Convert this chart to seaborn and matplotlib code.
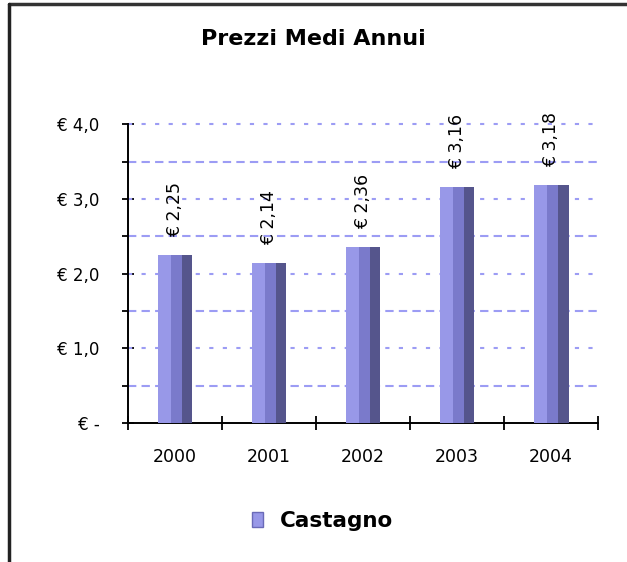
import matplotlib
matplotlib.use("Agg")
import matplotlib.pyplot as plt
from matplotlib.lines import Line2D
from matplotlib.patches import Rectangle
import seaborn as sns
import pandas as pd

years = ["2000", "2001", "2002", "2003", "2004"]
prices = [2.25, 2.14, 2.36, 3.16, 3.18]
price_labels = ["€ 2,25", "€ 2,14", "€ 2,36", "€ 3,16", "€ 3,18"]
y_ticks = [0, 1, 2, 3, 4]
y_tick_labels = ["€ -", "€ 1,0", "€ 2,0", "€ 3,0", "€ 4,0"]
minor_ticks = [0.5, 1.5, 2.5, 3.5]
series_name = "Castagno"

df = pd.DataFrame({"anno": years, "prezzo": prices})

sns.set_style("white")
plt.rcParams["font.family"] = ["DejaVu Sans"]
plt.rcParams["text.color"] = "black"
plt.rcParams["xtick.color"] = "black"
plt.rcParams["ytick.color"] = "black"

fig = plt.figure(figsize=(6.27, 5.62), dpi=100)
ax = fig.add_axes([0.204, 0.247, 0.750, 0.532])

bar_color = "#9898e8"
sns.barplot(data=df, x="anno", y="prezzo", color=bar_color, width=0.37,
            saturation=1, edgecolor="none", ax=ax, zorder=3)

# fake the shaded cylinder look of the original
for p in ax.patches[:len(years)]:
    x0, w, h = p.get_x(), p.get_width(), p.get_height()
    ax.add_patch(Rectangle((x0 + w * 0.38, 0), w * 0.32, h, color="#7a7acb", zorder=3.1, lw=0))
    ax.add_patch(Rectangle((x0 + w * 0.70, 0), w * 0.30, h, color="#55558c", zorder=3.2, lw=0))

for i, (val, lab) in enumerate(zip(prices, price_labels)):
    ax.annotate(lab, (i, val), xytext=(0, 13), textcoords="offset points",
                rotation=90, ha="center", va="bottom", fontsize=12.5, zorder=4)

ax.set_xlim(-0.5, len(years) - 0.5)
ax.set_ylim(0, 4)
ax.set_yticks(y_ticks)
ax.set_yticklabels(y_tick_labels, fontsize=12)
ax.set_yticks(minor_ticks, minor=True)
ax.set_xticks(range(len(years)))
ax.set_xticklabels(years, fontsize=12.5)
ax.set_xlabel("")
ax.set_ylabel("")

# grid lines: dotted at major, dashed at minor
for v in y_ticks[1:]:
    ax.axhline(v, color="#9c9cf4", lw=1.5, ls=(0, (2, 4.5)), zorder=1, clip_on=False)
for v in minor_ticks:
    ax.axhline(v, color="#9c9cf4", lw=1.5, ls=(0, (4, 2.5)), zorder=1)

# category boundary ticks on x axis
ax.set_xticks([i - 0.5 for i in range(len(years) + 1)], minor=True)
ax.tick_params(axis="x", which="major", bottom=False, length=0, pad=18)
ax.tick_params(axis="x", which="minor", bottom=True, direction="inout", length=10, width=1.3)
ax.tick_params(axis="y", which="both", left=True, direction="inout", length=9, width=1.3, pad=16)

for s in ["top", "right"]:
    ax.spines[s].set_visible(False)
for s in ["left", "bottom"]:
    ax.spines[s].set_color("black")
    ax.spines[s].set_linewidth(1.4)

fig.text(0.5, 0.93, "Prezzi Medi Annui", ha="center", va="center",
         fontsize=16, fontweight="bold")

handle = Rectangle((0, 0), 1, 1, facecolor=bar_color, edgecolor="#6a6ab8")
fig.legend([handle], [series_name], loc="center", bbox_to_anchor=(0.515, 0.073),
           frameon=False, prop={"size": 15.5, "weight": "bold"},
           handlelength=0.5, handleheight=0.7, handletextpad=0.8)

# outer frame (top and left edges visible)
fig.add_artist(Line2D([0.0145, 1.0], [0.9935, 0.9935], color="#333333", lw=2.5, transform=fig.transFigure))
fig.add_artist(Line2D([0.0145, 0.0145], [0.0, 0.9935], color="#222222", lw=2.5, transform=fig.transFigure))

fig.savefig("out.png", dpi=100)
